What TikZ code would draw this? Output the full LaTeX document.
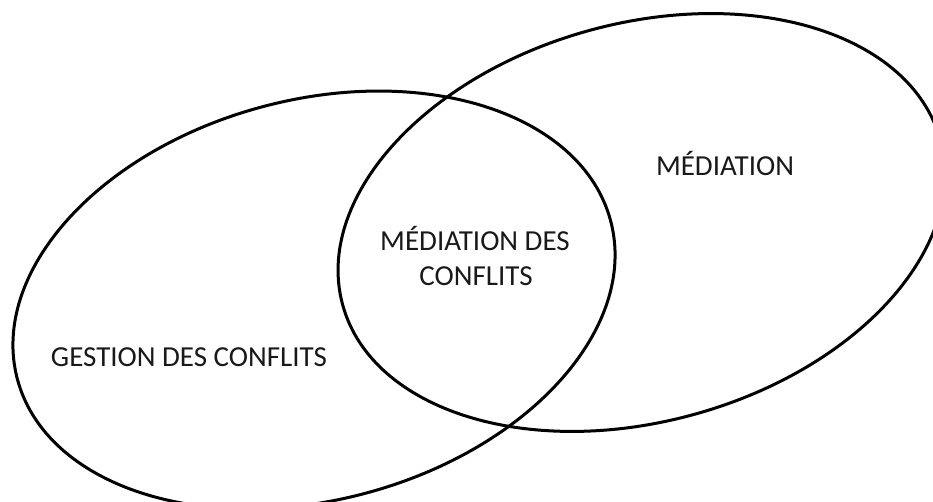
\documentclass[tikz,border=0pt]{standalone}
\usepackage{fontspec}
\setmainfont{Carlito}
\begin{document}
\begin{tikzpicture}[x=1pt,y=1pt,
  venn/.style={draw=black,line width=3pt},
  lbl/.style={anchor=base,inner sep=0pt,font=\fontsize{29}{35}\selectfont,text=black!90}]
\useasboundingbox (0,0) rectangle (933,502);
\clip (0,0) rectangle (933,502);
\draw[venn,rotate around={15:(314,202)}] (314,202) ellipse [x radius=307,y radius=200];
\draw[venn,rotate around={15.5:(641.5,279.5)}] (641.5,279.5) ellipse [x radius=310,y radius=199];
\node[lbl] (med) at (725,326) {MÉDIATION};
\node[lbl] (mdc1) at (475,251) {MÉDIATION DES};
\node[lbl] (mdc2) at (476,216) {CONFLITS};
\node[lbl] (gdc) at (189,135) {GESTION DES CONFLITS};
\end{tikzpicture}
\end{document}
